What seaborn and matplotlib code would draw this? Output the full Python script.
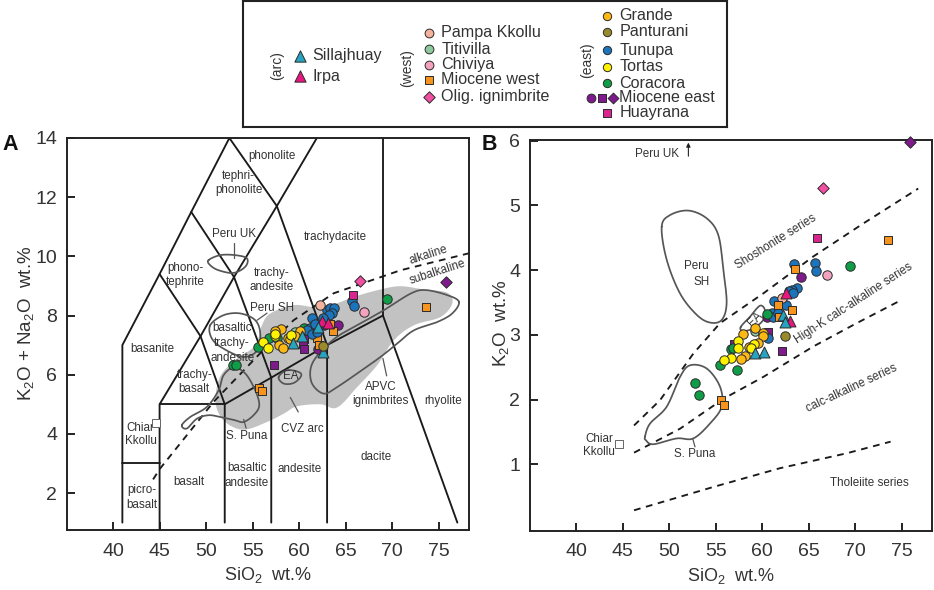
import numpy as np
import matplotlib.pyplot as plt
import seaborn as sns

# ---- series (TAS): SiO2, K2O + Na2O ----
sillajhuay_a_x = [62.07, 60.27, 59.34, 62.57]
sillajhuay_a_y = [7.60, 7.30, 7.07, 6.75]
irpa_a_x = [62.5, 63.1]
irpa_a_y = [7.81, 7.76]
pampa_a_x = [62.28]
pampa_a_y = [8.34]
titivilla_a_x = [59.5]
titivilla_a_y = [7.45]
chiviya_a_x = [66.98]
chiviya_a_y = [8.11]
mio_west_a_x = [73.65, 63.68, 63.3, 61.9, 62.1, 55.64, 56.0]
mio_west_a_y = [8.28, 7.47, 7.7, 7.24, 7.02, 5.55, 5.46]
olig_a_x = [66.55]
olig_a_y = [9.16]
grande_a_x = [58.05, 57.44, 57.83, 58.26, 58.76, 60.13, 58.98, 59.5]
grande_a_y = [7.54, 7.47, 7.00, 6.90, 7.25, 7.48, 7.22, 7.3]
panturani_a_x = [62.57]
panturani_a_y = [6.96]
tunupa_a_x = [65.7, 65.87, 63.03, 63.36, 63.7, 63.5, 63.17, 61.4, 62.3, 61.2, 60.85, 61.4, 61.9, 62.6, 61.74]
tunupa_a_y = [8.48, 8.33, 8.18, 8.27, 8.24, 8.09, 8.01, 7.90, 7.78, 7.59, 7.50, 7.39, 7.45, 7.90, 7.71]
tortas_a_x = [56.1, 57.36, 56.65, 59.16, 57.44]
tortas_a_y = [7.12, 7.30, 6.89, 7.34, 7.38]
coracora_a_x = [69.4, 55.53, 56.72, 57.6, 60.56, 52.88, 53.24]
coracora_a_y = [8.57, 6.94, 7.25, 7.25, 7.59, 6.34, 6.34]
mio_east_circ_a_x = [64.2, 62.7, 62.03]
mio_east_circ_a_y = [7.68, 7.67, 6.86]
mio_east_sq_a_x = [60.56, 60.45, 60.48, 57.33]
mio_east_sq_a_y = [7.22, 7.04, 6.86, 6.34]
mio_east_dia_a_x = [75.8]
mio_east_dia_a_y = [9.14]
huayrana_a_x = [65.8]
huayrana_a_y = [8.68]
chiar_a_x = [44.6]
chiar_a_y = [4.36]

# ---- series: SiO2, K2O ----
sillajhuay_b_x = [62.2, 62.5, 59.19, 60.23]
sillajhuay_b_y = [3.30, 3.20, 2.72, 2.74]
irpa_b_x = [62.52, 62.99]
irpa_b_y = [3.65, 3.22]
pampa_b_x = [62.1]
pampa_b_y = [3.57]
titivilla_b_x = [59.23]
titivilla_b_y = [3.06]
chiviya_b_x = [66.96]
chiviya_b_y = [3.92]
mio_west_b_x = [73.5, 63.52, 61.73, 63.2, 55.6, 55.93, 61.84]
mio_west_b_y = [4.47, 4.02, 3.46, 3.39, 2.0, 1.915, 3.28]
olig_b_x = [66.5]
olig_b_y = [5.27]
grande_b_x = [57.97, 59.23, 60.13, 60.13, 59.5, 58.58, 58.15, 57.72]
grande_b_y = [3.02, 3.11, 3.03, 2.99, 2.87, 2.81, 2.68, 2.62]
panturani_b_x = [62.5]
panturani_b_y = [2.99]
tunupa_b_x = [63.4, 65.67, 65.82, 63.7, 63.2, 62.9, 63.35, 61.27, 62.52, 61.02, 61.2, 61.73, 60.62]
tunupa_b_y = [4.09, 4.11, 3.99, 3.72, 3.69, 3.67, 3.64, 3.52, 3.46, 3.33, 3.27, 3.33, 2.95]
tortas_b_x = [57.37, 57.37, 56.6, 55.9, 59.12, 58.76]
tortas_b_y = [2.90, 2.80, 2.64, 2.61, 2.86, 2.79]
coracora_b_x = [69.47, 60.55, 56.6, 56.83, 55.5, 57.33, 52.82, 53.21]
coracora_b_y = [4.06, 3.32, 2.78, 2.80, 2.53, 2.45, 2.25, 2.07]
mio_east_circ_b_x = [64.13, 60.5]
mio_east_circ_b_y = [3.89, 3.28]
mio_east_sq_b_x = [62.16, 60.59, 56.97]
mio_east_sq_b_y = [2.75, 3.04, 2.86]
mio_east_dia_b_x = [75.88]
mio_east_dia_b_y = [5.975]
huayrana_b_x = [65.92]
huayrana_b_y = [4.50]
chiar_b_x = [44.66]
chiar_b_y = [1.32]

# TAS field boundaries
tas_boundaries = [
    [(41, 1), (41, 7), (45, 9.4), (48.4, 11.5), (52.5, 14), (57.6, 11.7), (61.9, 14)],
    [(41, 3), (45, 3)],
    [(45, 0.75), (45, 5), (49.4, 7.3), (53, 9.3), (57.6, 11.7)],
    [(45, 5), (52, 5)],
    [(52, 1), (52, 5), (57, 5.9), (63, 7), (69, 8), (77, 1)],
    [(52, 5), (49.4, 7.3), (45, 9.4)],
    [(57, 1), (57, 5.9), (53, 9.3), (48.4, 11.5)],
    [(63, 1), (63, 7), (57.6, 11.7)],
    [(69, 8), (69, 14)],
]
alkaline_line = [(44.3, 2.46), (45.06, 2.83), (50.8, 5.08), (55.8, 6.72), (59.4, 7.84), (63.7, 8.75), (70.9, 9.53), (78.2, 10.1)]

# outlines in panel A
cvz_region = [(51.09, 4.91), (51.09, 5.47), (51.7, 6.04), (53.31, 6.54), (55.28, 6.99), (56.0, 7.67), (56.9, 8.07),
              (59.41, 8.35), (61.56, 8.29), (63.72, 8.38), (65.87, 8.63), (68.74, 8.88), (70.89, 8.99), (73.4, 8.88),
              (75.91, 8.77), (76.45, 8.41), (75.2, 7.95), (72.33, 7.67), (70.17, 7.16), (68.38, 6.32), (66.23, 5.58),
              (64.07, 4.89), (62.28, 5.0), (59.77, 4.93), (58.33, 4.68), (56.54, 4.4), (54.03, 4.14), (52.05, 4.4)]
apvc_outline = [(77.17, 8.46), (75.91, 8.69), (73.58, 8.86), (71.97, 8.74), (69.1, 8.18), (66.23, 7.67), (64.07, 7.28),
                (62.28, 6.77), (61.27, 6.26), (61.38, 5.7), (62.64, 5.36), (64.07, 5.58), (66.23, 6.04), (68.74, 6.6),
                (70.53, 7.05), (72.33, 7.5), (74.84, 7.78), (76.45, 8.07)]
puna_a_outline = [(47.39, 4.29), (48.29, 4.57), (50.08, 4.91), (51.34, 5.47), (51.87, 5.98), (52.95, 6.24), (54.21, 6.04),
                  (55.28, 5.47), (55.71, 4.96), (55.1, 4.63), (54.03, 4.4), (53.13, 4.46), (51.52, 4.57), (50.26, 4.63),
                  (49.0, 4.51), (47.93, 4.18)]
peru_sh_a_outline = [(50.44, 7.67), (51.87, 8.01), (53.67, 8.07), (55.28, 7.84), (55.82, 7.39), (55.53, 6.83),
                     (54.03, 6.6), (51.87, 6.88), (50.62, 7.22)]
peru_uk_outline = [(50.26, 9.87), (51.52, 10.04), (53.13, 10.04), (54.39, 9.93), (54.21, 9.65), (52.95, 9.44),
                   (51.34, 9.53), (50.44, 9.7)]
ea_a_outline = [(57.79, 5.92), (58.69, 6.15), (59.95, 6.09), (60.2, 5.95), (59.41, 5.72), (58.33, 5.7)]
leaders_a = [[(52.95, 10.45), (52.95, 9.94)], [(56.55, 8.08), (55.47, 7.84)], [(54.03, 4.49), (54.3, 4.19)],
             [(59.05, 5.23), (59.9, 4.74)], [(69.0, 6.55), (69.4, 5.96)]]

# dashed series dividers and outlines in panel B
shoshonite_line = [(46.23, 1.6), (49.02, 1.99), (52.6, 2.71), (55.47, 3.18), (60.12, 3.64), (65.49, 4.21), (70.86, 4.72), (76.77, 5.26)]
high_k_line = [(46.23, 1.18), (51.17, 1.55), (55.93, 2.02), (60.12, 2.35), (65.49, 2.82), (70.15, 3.18), (74.98, 3.54)]
tholeiite_line = [(46.23, 0.29), (54.75, 0.65), (61.91, 0.94), (69.07, 1.17), (73.8, 1.35)]
peru_sh_b_outline = [(49.2, 4.67), (50.1, 4.85), (52.07, 4.92), (54.04, 4.8), (55.29, 4.54), (55.83, 4.0), (56.18, 3.49),
                     (55.65, 3.23), (54.39, 3.19), (52.96, 3.31), (51.17, 3.64), (49.74, 4.16)]
puna_b_outline = [(47.41, 1.43), (47.95, 1.63), (49.74, 1.89), (51.17, 2.35), (52.25, 2.53), (54.04, 2.48), (55.47, 2.2),
                  (55.65, 1.89), (54.39, 1.63), (52.6, 1.4), (50.81, 1.4), (48.31, 1.31), (47.52, 1.37)]
ea_b_outline = [(57.69, 3.12), (58.69, 3.28), (59.76, 3.45), (60.3, 3.38), (60.12, 3.23), (59.05, 3.1), (57.97, 3.06)]

x_ticks = [40, 45, 50, 55, 60, 65, 70, 75]
y_ticks_a = [2, 4, 6, 8, 10, 12, 14]
y_ticks_b = [1, 2, 3, 4, 5, 6]

colors = {
    'Sillajhuay': '#27a3bf', 'Irpa': '#e8177f', 'Pampa Kkollu': '#f4b39c', 'Titivilla': '#8fc9a0',
    'Chiviya': '#f3a3c0', 'Miocene west': '#f7941d', 'Olig. ignimbrite': '#f24fa2', 'Grande': '#fdb913',
    'Panturani': '#998a2b', 'Tunupa': '#1c75bc', 'Tortas': '#fff200', 'Coracora': '#0f9d48',
    'Miocene east': '#7f1a8c', 'Huayrana': '#da2490',
}
EDGE = '#2b2b2b'
INK = '#333333'
CONTOUR = '#565656'

sns.set_style('white')
plt.rcParams['font.family'] = ['Liberation Sans', 'DejaVu Sans']
plt.rcParams['mathtext.default'] = 'regular'


def smooth(points, n=14):
    # closed Catmull-Rom curve through the outline points
    p = np.array(points, dtype=float)
    t = np.linspace(0, 1, n, endpoint=False)[:, None]
    out = []
    for i in range(len(p)):
        p0, p1, p2, p3 = p[i - 1], p[i], p[(i + 1) % len(p)], p[(i + 2) % len(p)]
        out.append(0.5 * (2 * p1 + (p2 - p0) * t + (2 * p0 - 5 * p1 + 4 * p2 - p3) * t ** 2
                          + (3 * p1 - p0 - 3 * p2 + p3) * t ** 3))
    out = np.vstack(out)
    return np.vstack([out, out[0]])


def draw_line(ax, points, **kw):
    xs, ys = zip(*points)
    ax.plot(xs, ys, **kw)


def outline(ax, points):
    c = smooth(points)
    ax.plot(c[:, 0], c[:, 1], color=CONTOUR, lw=1.25, zorder=2.5)


def dots(ax, x, y, name, marker='o', s=46):
    sns.scatterplot(x=x, y=y, marker=marker, color=colors[name], s=s, edgecolor=EDGE,
                    linewidth=0.7, ax=ax, legend=False, zorder=4, clip_on=False)


def note(ax, x, y, label, rot=0, size=8.4, **kw):
    ax.text(x, y, label, rotation=rot, fontsize=size, color=INK, ha='center', va='center',
            rotation_mode='anchor', zorder=3, **kw)


def style_axes(ax, ylim, yticks, ylabel, ylabel_x, ylabel_y):
    ax.set_xlim(35.05, 78.25)
    ax.set_ylim(*ylim)
    ax.set_xticks(x_ticks)
    ax.set_yticks(yticks)
    ax.tick_params(axis='both', direction='in', length=6, width=1.4, bottom=True, left=True,
                   labelsize=14, labelcolor=INK, color='#222222')
    ax.tick_params(axis='x', pad=9)
    ax.tick_params(axis='y', pad=7)
    for s in ax.spines.values():
        s.set_linewidth(1.4)
        s.set_color('#222222')
        s.set_visible(True)
    ax.set_xlabel(r'SiO$_2$  wt.%', fontsize=13, color=INK)
    ax.xaxis.set_label_coords(0.5, -0.09)
    ax.set_ylabel(ylabel, fontsize=13.5, color=INK)
    ax.yaxis.set_label_coords(ylabel_x, ylabel_y)


W, H = 934, 590
fig = plt.figure(figsize=(9.34, 5.9), dpi=100)
ax_a = fig.add_axes([67 / W, 1 - 530 / H, 402 / W, 392 / H])
ax_b = fig.add_axes([530 / W, 1 - 531 / H, 402 / W, 391 / H])

# ---- panel A ----
region = smooth(cvz_region)
ax_a.fill(region[:, 0], region[:, 1], color='#c2c2c2', lw=0, zorder=1)
for seg in tas_boundaries:
    draw_line(ax_a, seg, color='#1a1a1a', lw=1.35, zorder=2, solid_joinstyle='miter')
draw_line(ax_a, alkaline_line, color='#1a1a1a', lw=1.35, ls=(0, (3.6, 3)), zorder=2)
for shape in [apvc_outline, puna_a_outline, peru_sh_a_outline, peru_uk_outline, ea_a_outline]:
    outline(ax_a, shape)
for seg in leaders_a:
    draw_line(ax_a, seg, color=CONTOUR, lw=0.9, zorder=2.5)

note(ax_a, 57.08, 13.39, 'phonolite')
note(ax_a, 53.5, 12.47, 'tephri-\nphonolite')
note(ax_a, 63.9, 10.64, 'trachydacite')
note(ax_a, 52.96, 10.77, 'Peru UK')
note(ax_a, 47.8, 9.36, 'phono-\ntephrite')
note(ax_a, 57.08, 9.2, 'trachy-\nandesite')
note(ax_a, 57.08, 8.26, 'Peru SH')
note(ax_a, 52.8, 7.08, 'basaltic\ntrachy-\nandesite', linespacing=1.35)
note(ax_a, 73.9, 10.04, 'alkaline', rot=18)
note(ax_a, 74.84, 9.48, 'subalkaline', rot=18)
note(ax_a, 44.27, 6.86, 'basanite')
note(ax_a, 48.72, 5.75, 'trachy-\nbasalt')
note(ax_a, 59.06, 5.96, 'EA')
note(ax_a, 68.74, 5.36, 'APVC\nignimbrites')
note(ax_a, 75.49, 5.11, 'rhyolite')
note(ax_a, 42.95, 3.98, 'Chiar\nKkollu')
note(ax_a, 54.4, 3.93, 'S. Puna')
note(ax_a, 60.31, 4.15, 'CVZ arc')
note(ax_a, 68.3, 3.22, 'dacite')
note(ax_a, 54.4, 2.6, 'basaltic\nandesite', linespacing=1.35)
note(ax_a, 60.02, 2.81, 'andesite')
note(ax_a, 48.1, 2.37, 'basalt')
note(ax_a, 43.09, 1.86, 'picro-\nbasalt', linespacing=1.35)

dots(ax_a, mio_east_sq_a_x, mio_east_sq_a_y, 'Miocene east', 's', 36)
dots(ax_a, mio_east_circ_a_x, mio_east_circ_a_y, 'Miocene east')
dots(ax_a, mio_east_dia_a_x, mio_east_dia_a_y, 'Miocene east', 'D', 34)
dots(ax_a, mio_west_a_x, mio_west_a_y, 'Miocene west', 's', 36)
dots(ax_a, titivilla_a_x, titivilla_a_y, 'Titivilla')
dots(ax_a, coracora_a_x, coracora_a_y, 'Coracora')
dots(ax_a, tunupa_a_x, tunupa_a_y, 'Tunupa')
dots(ax_a, grande_a_x, grande_a_y, 'Grande')
dots(ax_a, tortas_a_x, tortas_a_y, 'Tortas')
dots(ax_a, pampa_a_x, pampa_a_y, 'Pampa Kkollu')
dots(ax_a, chiviya_a_x, chiviya_a_y, 'Chiviya')
dots(ax_a, huayrana_a_x, huayrana_a_y, 'Huayrana', 's', 36)
dots(ax_a, olig_a_x, olig_a_y, 'Olig. ignimbrite', 'D', 34)
dots(ax_a, irpa_a_x, irpa_a_y, 'Irpa', '^', 62)
dots(ax_a, sillajhuay_a_x, sillajhuay_a_y, 'Sillajhuay', '^', 62)
dots(ax_a, panturani_a_x, panturani_a_y, 'Panturani')
sns.scatterplot(x=chiar_a_x, y=chiar_a_y, marker='s', color='white', s=28, edgecolor='#666666',
                linewidth=0.7, ax=ax_a, legend=False, zorder=4)

style_axes(ax_a, (0.75, 14.0), y_ticks_a, r'K$_2$O + Na$_2$O  wt.%', -0.077, 0.528)

# ---- panel B ----
for seg in [shoshonite_line, high_k_line, tholeiite_line]:
    draw_line(ax_b, seg, color='#1a1a1a', lw=1.35, ls=(0, (3.6, 3)), zorder=2)
for shape in [peru_sh_b_outline, puna_b_outline, ea_b_outline]:
    outline(ax_b, shape)
draw_line(ax_b, [(52.53, 1.4), (52.78, 1.27)], color=CONTOUR, lw=0.9, zorder=2.5)

note(ax_b, 48.67, 5.8, 'Peru UK')
ax_b.annotate('', xy=(52.07, 5.97), xytext=(52.07, 5.76),
              arrowprops=dict(arrowstyle='-|>', color='#222222', lw=0.8, mutation_scale=6, shrinkA=0, shrinkB=0))
note(ax_b, 61.48, 4.44, 'Shoshonite series', rot=32)
note(ax_b, 52.89, 4.07, 'Peru')
note(ax_b, 53.5, 3.81, 'SH')
note(ax_b, 69.79, 3.49, 'High-K calc-alkaline series', rot=33)
note(ax_b, 69.61, 2.17, 'calc-alkaline series', rot=25)
note(ax_b, 71.47, 0.71, 'Tholeiite series')
note(ax_b, 42.5, 1.29, 'Chiar\nKkollu')
note(ax_b, 52.78, 1.16, 'S. Puna')
note(ax_b, 59.23, 3.24, 'EA', rot=45)

dots(ax_b, mio_east_sq_b_x, mio_east_sq_b_y, 'Miocene east', 's', 36)
dots(ax_b, mio_east_circ_b_x, mio_east_circ_b_y, 'Miocene east')
dots(ax_b, mio_east_dia_b_x, mio_east_dia_b_y, 'Miocene east', 'D', 34)
dots(ax_b, titivilla_b_x, titivilla_b_y, 'Titivilla')
dots(ax_b, tunupa_b_x, tunupa_b_y, 'Tunupa')
dots(ax_b, coracora_b_x, coracora_b_y, 'Coracora')
dots(ax_b, grande_b_x, grande_b_y, 'Grande')
dots(ax_b, tortas_b_x, tortas_b_y, 'Tortas')
dots(ax_b, pampa_b_x, pampa_b_y, 'Pampa Kkollu')
dots(ax_b, chiviya_b_x, chiviya_b_y, 'Chiviya')
dots(ax_b, panturani_b_x, panturani_b_y, 'Panturani')
dots(ax_b, mio_west_b_x, mio_west_b_y, 'Miocene west', 's', 36)
dots(ax_b, huayrana_b_x, huayrana_b_y, 'Huayrana', 's', 36)
dots(ax_b, olig_b_x, olig_b_y, 'Olig. ignimbrite', 'D', 34)
dots(ax_b, irpa_b_x, irpa_b_y, 'Irpa', '^', 62)
dots(ax_b, sillajhuay_b_x, sillajhuay_b_y, 'Sillajhuay', '^', 62)
sns.scatterplot(x=chiar_b_x, y=chiar_b_y, marker='s', color='white', s=28, edgecolor='#666666',
                linewidth=0.7, ax=ax_b, legend=False, zorder=4)

style_axes(ax_b, (-0.03, 6.01), y_ticks_b, r'K$_2$O  wt.%', -0.047, 0.532)

fig.text(2 / W, 1 - 144 / H, 'A', fontsize=15.5, fontweight='bold', color='#111111', va='center')
fig.text(482 / W, 1 - 144 / H, 'B', fontsize=15.5, fontweight='bold', color='#111111', va='center')

# ---- key box, laid out in figure pixels ----
key = fig.add_axes([243 / W, 1 - 127 / H, 484 / W, 126 / H])
key.set_xlim(243, 727)
key.set_ylim(127, 1)
key.set_xticks([])
key.set_yticks([])
for s in key.spines.values():
    s.set_linewidth(1.5)
    s.set_color('#222222')
    s.set_visible(True)


def key_group(names, mark_x, text_x, rows, markers, sizes):
    for name, row, m, sz in zip(names, rows, markers, sizes):
        dots(key, [mark_x], [row], name, m, sz)
        key.text(text_x, row, name, fontsize=11.6, color=INK, va='center', ha='left')


key_group(['Sillajhuay', 'Irpa'], 300.3, 312.7, [55.5, 76], ['^', '^'], [66, 66])
key_group(['Pampa Kkollu', 'Titivilla', 'Chiviya', 'Miocene west', 'Olig. ignimbrite'], 429.3, 441.3,
          [33, 49, 65, 80, 96.7], ['o', 'o', 'o', 's', 'D'], [40, 40, 40, 28, 34])
key_group(['Grande', 'Panturani', 'Tunupa', 'Tortas', 'Coracora', 'Huayrana'], 607, 619.3,
          [16, 32, 50, 66.7, 83, 113], ['o', 'o', 'o', 'o', 'o', 's'], [36, 36, 36, 36, 36, 28])
dots(key, [590.7], [98], 'Miocene east', 'o', 40)
dots(key, [602.3], [98], 'Miocene east', 's', 26)
dots(key, [613.3], [98], 'Miocene east', 'D', 30)
key.text(619.3, 98, 'Miocene east', fontsize=11.6, color=INK, va='center', ha='left')
for px, py, label in [(277, 66, '(arc)'), (406.7, 68, '(west)'), (586.7, 60, '(east)')]:
    key.text(px, py, label, fontsize=10, color=INK, rotation=90, va='center', ha='center')

fig.savefig('out.png', dpi=100)
